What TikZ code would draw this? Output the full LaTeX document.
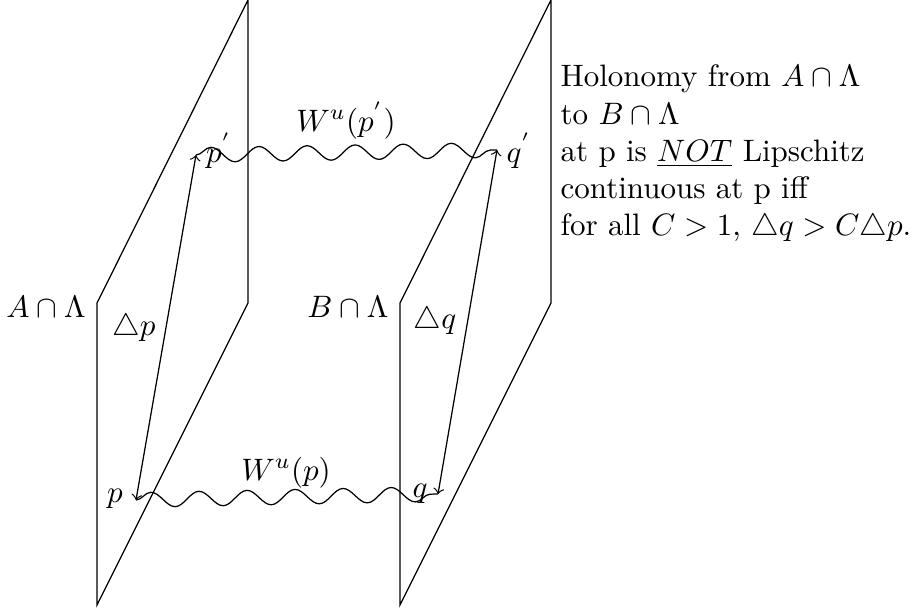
\documentclass[tikz,border=0pt]{standalone}
\usetikzlibrary{decorations.pathmorphing}
\begin{document}
\begin{tikzpicture}[x=0.3226pt,y=-0.3226pt,
  panel/.style={line width=0.4pt},
  wave/.style={decorate,decoration={snake,amplitude=2.4pt,segment length=15.5pt}},
  darrow/.style={<->},
  lbl/.style={inner sep=0pt,anchor=base}]
\useasboundingbox (0,0) rectangle (918,615);
% left panel
\coordinate (A1) at (97,605);
\coordinate (A2) at (97,303);
\coordinate (A3) at (248,0);
\coordinate (A4) at (248,303);
\draw[panel] (A1) -- (A2) -- (A3) -- (A4) -- cycle;
% right panel
\coordinate (B1) at (400,605);
\coordinate (B2) at (400,303);
\coordinate (B3) at (551,0);
\coordinate (B4) at (551,303);
\draw[panel] (B1) -- (B2) -- (B3) -- (B4) -- cycle;
% points
\coordinate (p) at (136,500);
\coordinate (pp) at (196,155);
\coordinate (q) at (438,494);
\coordinate (qp) at (497,150);
\draw[darrow] (p) -- (pp);
\draw[darrow] (q) -- (qp);
\draw[wave] (p) -- (q);
\draw[wave] (pp) -- (qp);
% labels
\node[lbl] (lA) at (46,317) {$A\cap\Lambda$};
\node[lbl] (lB) at (348,317) {$B\cap\Lambda$};
\node[lbl] (dp) at (134,335) {$\triangle p$};
\node[lbl] (dq) at (435,328) {$\triangle q$};
\node[lbl] (wpp) at (346,131) {$W^u(p^{'})$};
\node[lbl] (wp) at (286,480) {$W^u(p)$};
\node[lbl] (lp) at (115,502) {$p$};
\node[lbl] (lpp) at (219,162) {$p^{'}$};
\node[lbl] (lq) at (420,497) {$q$};
\node[lbl] (lqp) at (519,162) {$q^{'}$};
\node[anchor=north west,align=left,inner sep=0pt] (txt) at (560,64.5) {Holonomy from $A\cap\Lambda$\\to $B\cap\Lambda$\\at p is \underline{$NOT$} Lipschitz\\continuous at p iff\\for all $C>1$, $\triangle q>C\triangle p$.};
\end{tikzpicture}
\end{document}
